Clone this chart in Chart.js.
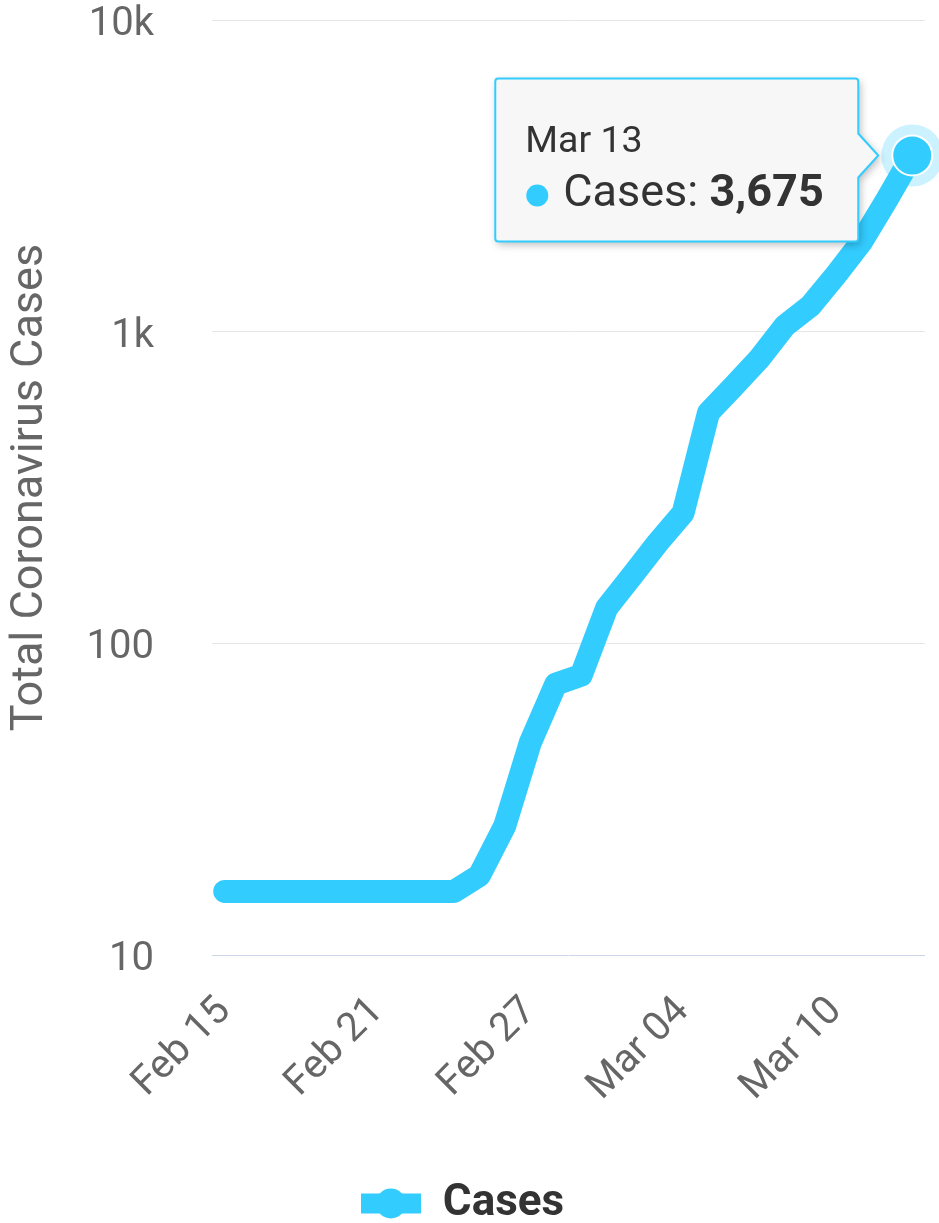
<!DOCTYPE html>
<html>
<head>
<meta charset="utf-8">
<script src="https://cdn.jsdelivr.net/npm/chart.js@4.4.1/dist/chart.umd.min.js"></script>
<style>
html, body { margin: 0; padding: 0; background: #ffffff; }
#wrap { width: 939px; height: 1223px; position: relative; }
</style>
</head>
<body>
<div id="wrap"><canvas id="chart"></canvas></div>
<script>
// ---- data ----
const categories = ["Feb 15","Feb 16","Feb 17","Feb 18","Feb 19","Feb 20","Feb 21","Feb 22","Feb 23","Feb 24",
  "Feb 25","Feb 26","Feb 27","Feb 28","Feb 29","Mar 01","Mar 02","Mar 03","Mar 04","Mar 05",
  "Mar 06","Mar 07","Mar 08","Mar 09","Mar 10","Mar 11","Mar 12","Mar 13"];
const cases = [16,16,16,16,16,16,16,16,16,16,
  18,26,48,74,79,130,165,210,262,550,
  670,820,1045,1210,1520,1940,2650,3675];
const xTickIndices = [0,6,12,18,24];
const yTickValues = [10,100,1000,10000];
const yTickLabels = ["10","100","1k","10k"];
const seriesName = "Cases";
const yAxisTitle = "Total Coronavirus Cases";
const highlightIndex = 27;
const tooltipTitle = "Mar 13";

// ---- styles ----
const LINE_COLOR = "#33ccff";
const TEXT_GRAY = "#666666";

function makeLegendIcon() {
  const c = document.createElement("canvas");
  c.width = 60; c.height = 31;
  const g = c.getContext("2d");
  g.fillStyle = LINE_COLOR;
  g.fillRect(0, 5.5, 60, 20);
  g.beginPath();
  g.arc(30, 15.5, 15, 0, Math.PI * 2);
  g.fill();
  return c;
}

const haloPlugin = {
  id: "halo",
  beforeDatasetsDraw(chart) {
    const el = chart.getDatasetMeta(0).data[highlightIndex];
    if (!el) return;
    const ctx = chart.ctx;
    ctx.save();
    ctx.fillStyle = "rgba(51,204,255,0.25)";
    ctx.beginPath();
    ctx.arc(el.x, el.y, 31, 0, Math.PI * 2);
    ctx.fill();
    ctx.restore();
  }
};

const tipPlugin = {
  id: "fixedTooltip",
  afterDraw(chart) {
    const el = chart.getDatasetMeta(0).data[highlightIndex];
    if (!el) return;
    const ctx = chart.ctx;
    const px = el.x, py = el.y;
    const tipX = px - 34;
    const right = tipX - 20;
    const left = right - 363;
    const top = py - 77;
    const bottom = py + 86;
    const r = 3;
    ctx.save();
    ctx.beginPath();
    ctx.moveTo(left + r, top);
    ctx.lineTo(right - r, top);
    ctx.quadraticCurveTo(right, top, right, top + r);
    ctx.lineTo(right, py - 22);
    ctx.lineTo(tipX, py);
    ctx.lineTo(right, py + 22);
    ctx.lineTo(right, bottom - r);
    ctx.quadraticCurveTo(right, bottom, right - r, bottom);
    ctx.lineTo(left + r, bottom);
    ctx.quadraticCurveTo(left, bottom, left, bottom - r);
    ctx.lineTo(left, top + r);
    ctx.quadraticCurveTo(left, top, left + r, top);
    ctx.closePath();
    ctx.shadowColor = "rgba(0,0,0,0.28)";
    ctx.shadowBlur = 8;
    ctx.shadowOffsetX = 2;
    ctx.shadowOffsetY = 3;
    ctx.fillStyle = "#f7f7f7";
    ctx.fill();
    ctx.shadowColor = "transparent";
    ctx.lineWidth = 2;
    ctx.strokeStyle = LINE_COLOR;
    ctx.stroke();

    ctx.fillStyle = "#333333";
    ctx.textBaseline = "alphabetic";
    ctx.textAlign = "left";
    ctx.font = "37.5px Roboto";
    ctx.fillText(tooltipTitle, left + 30, py - 3);

    ctx.fillStyle = LINE_COLOR;
    ctx.beginPath();
    ctx.arc(left + 42, py + 40, 11, 0, Math.PI * 2);
    ctx.fill();

    ctx.fillStyle = "#333333";
    ctx.font = "45px Roboto";
    const lbl = seriesName + ": ";
    ctx.fillText(lbl, left + 68, py + 51);
    const w = ctx.measureText(lbl).width;
    ctx.font = "bold 45px Roboto";
    ctx.fillText(cases[highlightIndex].toLocaleString("en-US"), left + 68 + w, py + 51);
    ctx.restore();
  }
};

function build() {
  Chart.defaults.font.family = "Roboto";
  const ctx = document.getElementById("chart").getContext("2d");
  new Chart(ctx, {
    type: "line",
    data: {
      labels: categories,
      datasets: [{
        label: seriesName,
        data: cases,
        borderColor: LINE_COLOR,
        backgroundColor: LINE_COLOR,
        borderWidth: 23,
        borderCapStyle: "round",
        borderJoinStyle: "round",
        tension: 0,
        fill: false,
        pointRadius: (c) => c.dataIndex === highlightIndex ? 20 : 0,
        pointBackgroundColor: LINE_COLOR,
        pointBorderColor: "#ffffff",
        pointBorderWidth: 2,
        clip: false
      }]
    },
    options: {
      responsive: true,
      maintainAspectRatio: false,
      animation: false,
      devicePixelRatio: 1,
      events: [],
      layout: { autoPadding: false, padding: { top: 20, right: 14, left: 0, bottom: -12.5 } },
      scales: {
        x: {
          type: "category",
          offset: true,
          grid: {
            display: true,
            drawOnChartArea: false,
            drawTicks: true,
            tickLength: 33,
            tickColor: "rgba(0,0,0,0)"
          },
          border: { display: false },
          ticks: {
            autoSkip: false,
            minRotation: 45,
            maxRotation: 45,
            padding: 0,
            color: TEXT_GRAY,
            font: { size: 40, family: "Roboto", lineHeight: 1.2 },
            callback: (v, i) => xTickIndices.includes(i) ? categories[i] : null
          },
          afterFit: (s) => { s.height = 226.5; }
        },
        y: {
          type: "logarithmic",
          min: 10,
          max: 10000,
          afterBuildTicks: (s) => { s.ticks = yTickValues.map(v => ({ value: v })); },
          grid: {
            color: (c) => (c.tick && c.tick.value === 10) ? "#ccd6eb" : "#e6e6e6",
            lineWidth: 1,
            drawTicks: true,
            tickLength: 58,
            tickColor: "rgba(0,0,0,0)"
          },
          border: { display: false },
          ticks: {
            padding: 0,
            labelOffset: 5,
            color: TEXT_GRAY,
            font: { size: 40, family: "Roboto", lineHeight: 0.95 },
            callback: (v) => {
              const k = yTickValues.indexOf(v);
              return k >= 0 ? yTickLabels[k] : "";
            }
          },
          title: {
            display: true,
            text: yAxisTitle,
            color: TEXT_GRAY,
            font: { size: 45, family: "Roboto", lineHeight: 1.2 },
            padding: { top: 4, bottom: 0 }
          },
          afterFit: (s) => { s.width = 212; }
        }
      },
      plugins: {
        legend: {
          display: true,
          position: "bottom",
          labels: {
            usePointStyle: true,
            pointStyle: makeLegendIcon(),
            pointStyleWidth: 60,
            padding: 0,
            color: "#333333",
            font: { size: 44, weight: "bold", family: "Roboto" }
          }
        },
        tooltip: { enabled: false }
      }
    },
    plugins: [haloPlugin, tipPlugin]
  });
}

if (document.fonts && document.fonts.load) {
  Promise.all([
    document.fonts.load("40px Roboto"),
    document.fonts.load("bold 45px Roboto")
  ]).then(build, build);
} else {
  build();
}
</script>
</body>
</html>
